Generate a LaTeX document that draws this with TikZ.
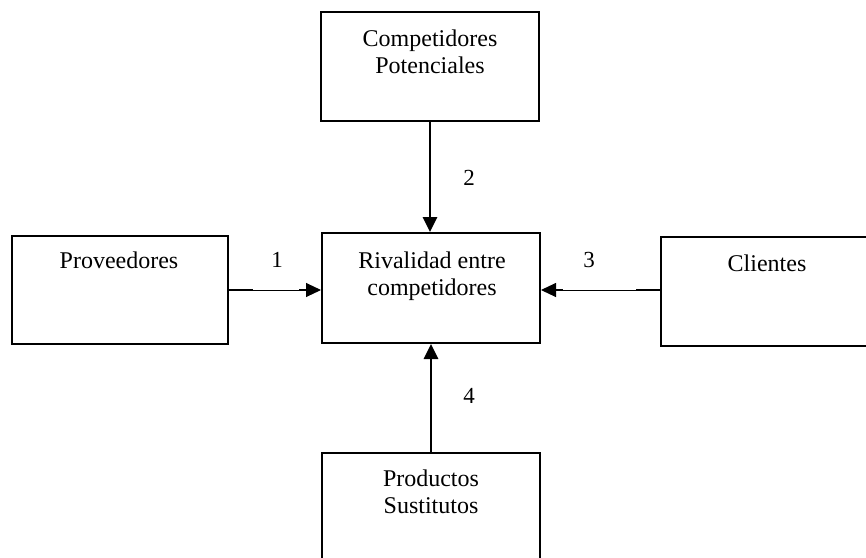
\documentclass[tikz,border=0pt]{standalone}
\usepackage{fontspec}
\setmainfont{Liberation Serif}
\usetikzlibrary{arrows.meta,calc}

\tikzset{
  box/.style={draw, line width=2pt, minimum width=218pt, minimum height=109pt, inner sep=0pt},
  txt/.style={font={\fontsize{24}{27}\selectfont}, align=center, anchor=base, inner sep=0pt},
  num/.style={font={\fontsize{23}{26}\selectfont}, anchor=base, inner sep=0pt},
  heavy/.style={line width=2.8pt},
  hair/.style={line width=1pt},
  tip/.style={-{Triangle[length=15pt,width=14pt]}}
}

\begin{document}
\begin{tikzpicture}[x=1pt,y=-1pt]
  \useasboundingbox (0,0) rectangle (866,557);
  \clip (0,0) rectangle (866,557);

  % the five forces
  \node[box] (comp) at (430,66.5) {};
  \node[box, minimum height=110pt] (riv) at (431,288) {};
  \node[box, minimum width=216pt, minimum height=108pt] (prov) at (120,289.5) {};
  \node[box, minimum width=230pt] (cli) at (776,291.5) {};
  \node[box, minimum height=120pt] (prod) at (431,513) {};

  % box captions (base = baseline of the last line)
  \node[txt] (compT) at (430,73) {Competidores\\Potenciales};
  \node[txt] (rivT) at (432,295) {Rivalidad entre\\competidores};
  \node[txt] (provT) at (119,268) {Proveedores};
  \node[txt] (cliT) at (767,271) {Clientes};
  \node[txt] (prodT) at (431,513) {Productos\\Sustitutos};

  % vertical forces
  \draw[heavy, tip] (comp.south) -- (comp.south |- riv.north);
  \draw[heavy, tip] (prod.north) -- (prod.north |- riv.south);

  % suppliers -> rivalry
  \coordinate (pA) at ($(prov.east)+(0,0.5)$);
  \coordinate (pB) at (pA -| riv.west);
  \draw[hair, tip] (pA) -- (pB);
  \draw[heavy] (pA) -- ++(24,0);
  \draw[heavy] ($(pB)+(-22,0)$) -- ++(8,0);

  % customers -> rivalry
  \coordinate (cA) at (cli.west |- pA);
  \coordinate (cB) at (cA -| riv.east);
  \draw[hair, tip] (cA) -- (cB);
  \draw[heavy] (cA) -- ++(-24,0);
  \draw[heavy] ($(cB)+(14,0)$) -- ++(8,0);

  % force numbers
  \node[num] (n1) at (277,267) {1};
  \node[num] (n2) at (469,185) {2};
  \node[num] (n3) at (589,267) {3};
  \node[num] (n4) at (469,403) {4};
\end{tikzpicture}
\end{document}
